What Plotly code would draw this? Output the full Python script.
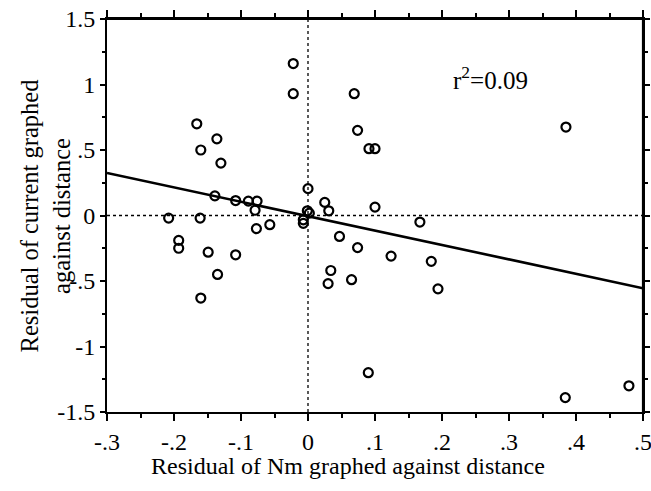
import plotly.graph_objects as go

# Residual of Nm (x) vs residual of current (y)
nm_resid = [-0.208, -0.193, -0.193, -0.166, -0.160, -0.161, -0.160, -0.149,
            -0.136, -0.130, -0.139, -0.135, -0.108, -0.108, -0.089, -0.076,
            -0.079, -0.077, -0.057, -0.022, -0.022, 0.000, -0.001, 0.002,
            -0.007, -0.007, 0.025, 0.031, 0.047, 0.034, 0.030, 0.065,
            0.074, 0.069, 0.074, 0.091, 0.100, 0.100, 0.124, 0.090,
            0.167, 0.184, 0.194, 0.385, 0.384, 0.479]
current_resid = [-0.02, -0.19, -0.25, 0.70, 0.50, -0.02, -0.63, -0.28,
                 0.585, 0.40, 0.15, -0.45, 0.114, -0.30, 0.11, 0.11,
                 0.04, -0.10, -0.07, 1.16, 0.93, 0.205, 0.036, 0.018,
                 -0.033, -0.06, 0.10, 0.036, -0.16, -0.42, -0.52, -0.49,
                 -0.245, 0.93, 0.65, 0.51, 0.51, 0.064, -0.31, -1.20,
                 -0.05, -0.35, -0.56, 0.675, -1.39, -1.30]

fit_intercept = -0.005
fit_slope = -1.1
fit_x = [-0.3, 0.5]
fit_y = [fit_intercept + fit_slope * v for v in fit_x]

x_tickvals = [-0.3, -0.2, -0.1, 0, 0.1, 0.2, 0.3, 0.4, 0.5]
x_ticktext = ["-.3", "-.2", "-.1", "0", ".1", ".2", ".3", ".4", ".5"]
y_tickvals = [-1.5, -1, -0.5, 0, 0.5, 1, 1.5]
y_ticktext = ["-1.5", "-1", "-.5", "0", ".5", "1", "1.5"]

x_title = "Residual of Nm graphed against distance"
y_title = "Residual of current graphed<br>against distance"
r2_text = "r<sup>2</sup>=0.09"

XR = [-0.3, 0.5]
YR = [-1.5, 1.5]
FONT = "Liberation Serif"

fig = go.Figure()
fig.add_trace(go.Scatter(x=fit_x, y=fit_y, mode="lines",
                         line=dict(color="black", width=2.6),
                         showlegend=False, hoverinfo="skip"))
fig.add_trace(go.Scatter(x=nm_resid, y=current_resid, mode="markers",
                         marker=dict(symbol="circle-open", size=9, color="black",
                                     line=dict(width=2.2, color="black")),
                         showlegend=False))

# dotted zero lines
fig.add_shape(type="line", x0=0, x1=0, y0=YR[0], y1=YR[1], xref="x", yref="y",
              line=dict(color="black", width=1.3, dash="dot"), layer="below")
fig.add_shape(type="line", x0=XR[0], x1=XR[1], y0=0, y1=0, xref="x", yref="y",
              line=dict(color="black", width=1.3, dash="dot"), layer="below")
# top and right frame lines
fig.add_shape(type="line", x0=XR[0], x1=XR[1], y0=YR[1], y1=YR[1], xref="x", yref="y",
              line=dict(color="black", width=2.2), layer="above")
fig.add_shape(type="line", x0=XR[1], x1=XR[1], y0=YR[0], y1=YR[1], xref="x", yref="y",
              line=dict(color="black", width=2.2), layer="above")

fig.add_annotation(x=0.272, y=1.05, xref="x", yref="y",
                   text=r2_text, showarrow=False,
                   font=dict(family=FONT, size=25, color="black"))

# axis titles
fig.add_annotation(x=-0.114, y=0.50, xref="paper", yref="paper",
                   xanchor="center", yanchor="middle",
                   text=y_title, textangle=-90, showarrow=False,
                   font=dict(family=FONT, size=24.5, color="black"))
fig.add_annotation(x=0.450, y=-0.137, xref="paper", yref="paper",
                   xanchor="center", yanchor="middle",
                   text=x_title, showarrow=False,
                   font=dict(family=FONT, size=24, color="black"))

fig.update_layout(
    width=651, height=491,
    margin=dict(l=107, r=8, t=19, b=79),
    paper_bgcolor="white", plot_bgcolor="white",
    font=dict(family=FONT, size=24, color="black"),
    xaxis=dict(range=XR, tickvals=x_tickvals, ticktext=x_ticktext,
               automargin=False, ticklabeloverflow="allow",
               ticks="outside", ticklen=7, tickwidth=2, tickcolor="black",
               minor=dict(dtick=0.05, tick0=0, ticks="outside", ticklen=4,
                          tickwidth=1.5, tickcolor="black"),
               showline=True, linewidth=2, linecolor="black", mirror="allticks",
               showgrid=False, zeroline=False),
    yaxis=dict(range=YR, tickvals=y_tickvals, ticktext=y_ticktext,
               automargin=False,
               ticks="outside", ticklen=5, tickwidth=2, tickcolor="black",
               minor=dict(dtick=0.25, tick0=0, ticks="outside", ticklen=3,
                          tickwidth=1.5, tickcolor="black"),
               showline=True, linewidth=2, linecolor="black", mirror="allticks",
               showgrid=False, zeroline=False),
)

fig.write_html("out.html",
               config={"displayModeBar": False},
               post_script="document.body.style.margin='0';"
                           "document.body.style.overflow='hidden';")
